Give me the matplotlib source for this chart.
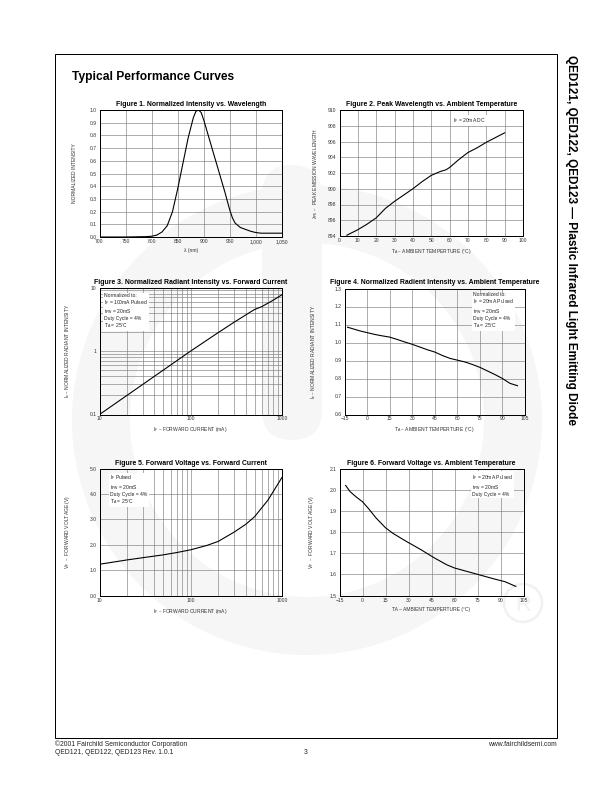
"""
QED121/122/123 datasheet page 3: Typical Performance Curves (6 panels).
"""
import matplotlib
matplotlib.use('Agg')
import matplotlib.pyplot as plt
from matplotlib.patches import Rectangle, Circle, Wedge, FancyBboxPatch, PathPatch
from matplotlib.textpath import TextPath
from matplotlib.font_manager import FontProperties
from matplotlib.ticker import LogLocator, NullFormatter
from matplotlib.transforms import Affine2D

plt.rcParams['font.family'] = ['Liberation Sans', 'DejaVu Sans']
plt.rcParams['mathtext.default'] = 'regular'

# ----------------------------------------------------------------------------
# Data
# ----------------------------------------------------------------------------
# Figure 1: normalized intensity vs wavelength
WL1 = [700, 750, 790, 800, 810, 820, 830, 840, 850, 860, 870, 880, 885, 890,
       895, 900, 910, 920, 930, 940, 950, 955, 960, 970, 980, 990, 1000, 1010, 1050]
INT1 = [0.0, 0.0, 0.003, 0.006, 0.015, 0.04, 0.09, 0.2, 0.38, 0.58, 0.78, 0.94, 0.99, 1.0,
        0.98, 0.92, 0.78, 0.64, 0.5, 0.36, 0.21, 0.15, 0.11, 0.075, 0.06, 0.045, 0.035, 0.03, 0.03]
WL1_TICKS = [700, 750, 800, 850, 900, 950, 1000, 1050]
WL1_LABELS = ['700', '750', '800', '850', '900', '950', '1,000', '1,050']

# Figure 2: peak wavelength vs ambient temperature
T2 = [4, 10, 15, 20, 25, 30, 35, 40, 45, 50, 55, 58, 60, 65, 70, 75, 80, 85, 90]
WL2 = [894.1, 894.8, 895.5, 896.3, 897.5, 898.4, 899.2, 900.0, 900.9, 901.7, 902.2,
       902.4, 902.7, 903.7, 904.6, 905.2, 905.9, 906.5, 907.1]

# Figure 3: normalized radiant intensity vs forward current
IF3 = [10, 20, 50, 100, 200, 300, 450, 500, 600, 800, 1000]
IE3 = [0.1, 0.2, 0.5, 1.0, 1.95, 2.85, 4.1, 4.5, 5.0, 6.3, 7.7]

# Figure 4: normalized radiant intensity vs ambient temperature
T4 = [-13, -5, 0, 5, 10, 15, 20, 25, 30, 35, 40, 45, 50, 55, 60, 65, 70, 75, 80,
      85, 90, 95, 100]
IE4 = [1.085, 1.065, 1.055, 1.045, 1.037, 1.03, 1.017, 1.003, 0.99, 0.975, 0.96,
       0.947, 0.928, 0.912, 0.902, 0.892, 0.878, 0.862, 0.842, 0.822, 0.8, 0.773, 0.76]

# Figure 5: forward voltage vs forward current
IF5 = [10, 20, 30, 50, 70, 100, 150, 200, 300, 400, 500, 700, 1000]
VF5 = [1.23, 1.40, 1.49, 1.60, 1.69, 1.80, 1.97, 2.13, 2.50, 2.80, 3.10, 3.75, 4.65]

# Figure 6: forward voltage vs ambient temperature
T6 = [-11, -8, -4, 0, 4, 9, 15, 20, 28, 38, 47, 55, 60, 70, 78, 86, 93, 100]
VF6 = [2.02, 1.99, 1.965, 1.943, 1.91, 1.865, 1.82, 1.793, 1.758, 1.717, 1.677,
       1.645, 1.63, 1.61, 1.594, 1.578, 1.565, 1.543]

TEMP_TICKS = [-15, 0, 15, 30, 45, 60, 75, 90, 105]

# ----------------------------------------------------------------------------
# Page
# ----------------------------------------------------------------------------
W, H = 612, 792
fig = plt.figure(figsize=(W / 72, H / 72), dpi=72)
fig.patch.set_facecolor('white')

page = fig.add_axes([0, 0, 1, 1], zorder=-10)
page.set_xlim(0, W)
page.set_ylim(H, 0)
page.axis('off')

# faint logo watermark
WM = '#f6f6f6'
page.add_patch(Wedge((307, 420), 235, 0, 360, width=58, fc=WM, ec='none'))
page.add_patch(FancyBboxPatch((262, 165), 60, 275,
                              boxstyle='round,pad=0,rounding_size=30', fc=WM, ec='none'))
page.add_patch(Circle((523, 603), 19, fill=False, ec='#f1f1f1', lw=2.5))
rpath = TextPath((0, 0), 'R', size=22, prop=FontProperties(family='Liberation Sans'))
rpath = rpath.transformed(Affine2D().scale(1, -1).translate(516, 611))
page.add_patch(PathPatch(rpath, fc='#f1f1f1', ec='none'))

# page frame
page.add_patch(Rectangle((55, 54), 502, 684, fill=False, ec='black', lw=1.0))

page.text(72, 80, 'Typical Performance Curves', fontsize=12, fontweight='bold',
          ha='left', va='baseline')
page.text(571, 55, 'QED121, QED122, QED123 \u2014 Plastic Infrared Light Emitting Diode',
          rotation=-90, fontsize=11.8, fontweight='bold', ha='center', va='top')

FOOT = dict(fontsize=6.8, color='#222222', va='baseline')
page.text(55, 746, '\u00a92001 Fairchild Semiconductor Corporation', ha='left', **FOOT)
page.text(55, 754, 'QED121, QED122, QED123 Rev. 1.0.1', ha='left', **FOOT)
page.text(306, 754, '3', ha='center', **FOOT)
page.text(557, 746, 'www.fairchildsemi.com', ha='right', **FOOT)

TICK_FS = 5.0


def make_ax(x0, y0, x1, y1):
    ax = fig.add_axes([x0 / W, 1 - y1 / H, (x1 - x0) / W, (y1 - y0) / H])
    ax.set_facecolor('none')
    for s in ax.spines.values():
        s.set_linewidth(1.0)
        s.set_color('black')
    ax.tick_params(which='both', length=0, labelsize=TICK_FS, colors='#333333')
    ax.tick_params(axis='x', pad=2)
    ax.tick_params(axis='y', pad=3)
    ax.set_axisbelow(True)
    return ax


def finish(ax, title, xlabel, ylabel, ylab_px, note=None, note_xy=None):
    ax.set_title(title, fontsize=6.9, fontweight='bold', pad=4)
    ax.set_xlabel(xlabel, fontsize=TICK_FS, color='#333333', labelpad=4)
    ax.set_ylabel(ylabel, fontsize=TICK_FS, color='#333333')
    bb = ax.get_position()
    ax.yaxis.set_label_coords(-ylab_px / (bb.width * W), 0.5)
    ax.grid(True, which='both', color='#7a7a7a', linewidth=0.6)
    if note:
        ax.text(note_xy[0], note_xy[1], note, transform=ax.transAxes, fontsize=5.0,
                color='#222222', ha='left', va='top', linespacing=1.05,
                bbox=dict(fc='white', ec='none', pad=1.0))


LINE = dict(color='black', lw=1.1)

# Figure 1
ax = make_ax(99.5, 110, 282, 237)
ax.plot(WL1, INT1, **LINE)
ax.set_xlim(700, 1050)
ax.set_ylim(0, 1.0)
ax.set_xticks(WL1_TICKS)
ax.set_xticklabels(WL1_LABELS)
ax.set_yticks([i / 10 for i in range(11)])
ax.set_yticklabels([f'{i / 10:.1f}' for i in range(11)])
finish(ax, 'Figure 1. Normalized Intensity vs. Wavelength', '\u03bb (nm)',
       'NORMALIZED INTENSITY', 22)

# Figure 2
ax = make_ax(339.5, 110, 523, 236)
ax.plot(T2, WL2, **LINE)
ax.set_xlim(0, 100)
ax.set_ylim(894, 910)
ax.set_xticks(range(0, 101, 10))
ax.set_yticks(range(894, 911, 2))
finish(ax, 'Figure 2. Peak Wavelength vs. Ambient Temperature',
       'T$_A$ \u2013 AMBIENT TEMPERTURE (\u00b0C)',
       '\u03bb$_{PE}$ \u2013  PEAK EMISSION WAVELENGTH', 20,
       'I$_F$ = 20mA DC', (0.62, 0.95))

# Figure 3
ax = make_ax(99.5, 287.5, 282, 414.5)
ax.plot(IF3, IE3, **LINE)
ax.set_xscale('log')
ax.set_yscale('log')
ax.set_xlim(10, 1000)
ax.set_ylim(0.1, 10)
ax.set_xticks([10, 100, 1000])
ax.set_xticklabels(['10', '100', '1000'])
ax.set_yticks([0.1, 1, 10])
ax.set_yticklabels(['0.1', '1', '10'])
for axis in (ax.xaxis, ax.yaxis):
    axis.set_minor_locator(LogLocator(base=10, subs=range(2, 10)))
    axis.set_minor_formatter(NullFormatter())
finish(ax, 'Figure 3. Normalized Radiant Intensity vs. Forward Current',
       'I$_F$ \u2013 FORWARD CURRENT (mA)',
       'I$_e$ \u2013 NORMALIZED RADIANT INTENSITY', 28,
       'Normalized to:\nI$_F$ = 100mA Pulsed\nt$_{PW}$ = 20mS\nDuty Cycle = 4%\nT$_A$ = 25\u00b0C',
       (0.025, 0.96))

# Figure 4
ax = make_ax(344.5, 288.5, 525, 414.5)
ax.plot(T4, IE4, **LINE)
ax.set_xlim(-15, 105)
ax.set_ylim(0.6, 1.3)
ax.set_xticks(TEMP_TICKS)
ax.set_yticks([0.6 + i / 10 for i in range(8)])
ax.set_yticklabels([f'{0.6 + i / 10:.1f}' for i in range(8)])
finish(ax, 'Figure 4. Normalized Radient Intensity vs. Ambient Temperature',
       'T$_A$ \u2013 AMBIENT TEMPERTURE (\u00b0C)',
       'I$_e$ \u2013 NORMALIZED RADIANT INTENSITY', 26,
       'Normalized to:\nI$_F$ = 20mA Pulsed\nt$_{PW}$ = 20mS\nDuty Cycle = 4%\nT$_A$ = 25\u00b0C',
       (0.71, 0.97))

# Figure 5
ax = make_ax(99.5, 468.5, 282, 595.5)
ax.plot(IF5, VF5, **LINE)
ax.set_xscale('log')
ax.set_xlim(10, 1000)
ax.set_ylim(0, 5)
ax.set_xticks([10, 100, 1000])
ax.set_xticklabels(['10', '100', '1000'])
ax.xaxis.set_minor_locator(LogLocator(base=10, subs=range(2, 10)))
ax.xaxis.set_minor_formatter(NullFormatter())
ax.set_yticks([0, 1, 2, 3, 4, 5])
ax.set_yticklabels(['0.0', '1.0', '2.0', '3.0', '4.0', '5.0'])
finish(ax, 'Figure 5. Forward Voltage vs. Forward Current',
       'I$_F$ \u2013 FORWARD CURRENT (mA)',
       'V$_F$  \u2013  FORWARD VOLTAGE (V)', 28,
       'I$_F$ Pulsed\nt$_{PW}$ = 20mS\nDuty Cycle = 4%\nT$_A$ = 25\u00b0C',
       (0.06, 0.96))

# Figure 6
ax = make_ax(339.5, 468.5, 523.5, 595.5)
ax.plot(T6, VF6, **LINE)
ax.set_xlim(-15, 105)
ax.set_ylim(1.5, 2.1)
ax.set_xticks(TEMP_TICKS)
ax.set_yticks([1.5 + i / 10 for i in range(7)])
ax.set_yticklabels([f'{1.5 + i / 10:.1f}' for i in range(7)])
finish(ax, 'Figure 6. Forward Voltage vs. Ambient Temperature',
       'TA \u2013 AMBIENT TEMPERTURE (\u00b0C)',
       'V$_F$  \u2013  FORWARD VOLTAGE (V)', 23,
       'I$_F$ = 20mA Pulsed\nt$_{PW}$ = 20mS\nDuty Cycle = 4%',
       (0.72, 0.96))

fig.savefig('out.png', dpi=72, facecolor='white')
